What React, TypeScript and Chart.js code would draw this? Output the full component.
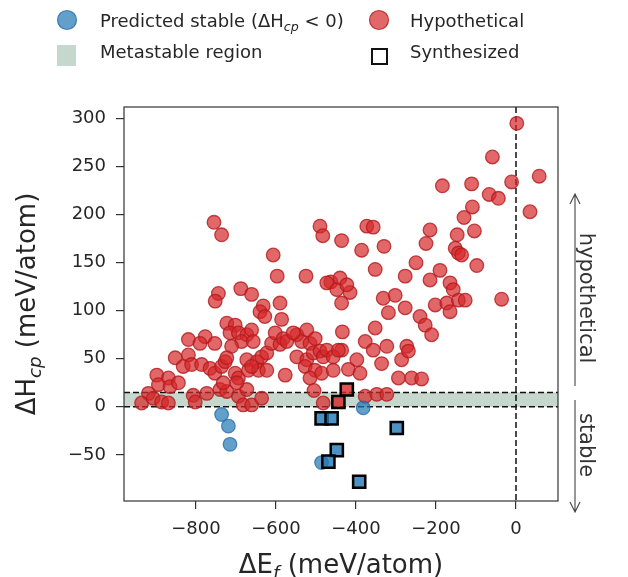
import React, { useEffect, useRef } from 'react';
import { Chart, registerables } from 'chart.js';

Chart.register(...registerables);

// Hypothetical (red circles)
const hypotheticalX = [
  -755, -736, -607, -597, -525, -490, -483, -436, -463, -440, -688, -661, -744, -752,
  2, -59, 58, -11, -111, -184, -67, -44, 35, -109, -130, -104, -215, -147, -225,
  -373, -357, -386, -330, -152, -144, -136, -98, -250, -190, -277, -352, -215, -165,
  -157, -36, -332, -302, -415, -277, -319, -202, -173, -165, -144, -127, -240, -227,
  -211, -436, -434, -436, -352, -377, -357, -323, -336, -398, -419, -390, -273, -286,
  -269, -294, -261, -236, -377, -348, -323, -632, -640, -628, -590, -586, -723, -702,
  -715, -694, -673, -661, -686, -657, -711, -819, -777, -790, -753, -852, -819, -832,
  -811, -786, -765, -753, -736, -727, -723, -702, -694, -673, -669, -648, -636, -623,
  -644, -623, -611, -590, -602, -582, -573, -548, -523, -536, -515, -502, -548, -523,
  -507, -490, -482, -473, -457, -444, -527, -502, -515, -486, -457, -577, -505, -898,
  -869, -894, -865, -844, -919, -936, -907, -886, -869, -807, -802, -773, -740, -723,
  -732, -694, -682, -673, -698, -661, -636, -473, -448, -423, -482, -557, -661,
];
const hypotheticalY = [
  192, 179, 158, 136, 136, 188, 178, 173, 130, 134, 123, 117, 118, 110,
  295, 260, 240, 234, 232, 230, 221, 217, 203, 208, 197, 183, 184, 179, 170,
  188, 187, 163, 167, 165, 160, 158, 147, 150, 142, 136, 143, 132, 129,
  122, 112, 113, 116, 119, 103, 98, 106, 108, 99, 111, 111, 94, 85,
  75, 108, 78, 59, 82, 68, 59, 63, 45, 49, 39, 35, 63, 49,
  58, 30, 30, 29, 11, 13, 13, 105, 99, 94, 108, 91, 87, 85,
  77, 77, 75, 80, 68, 68, 63, 70, 73, 66, 66, 51, 54, 42,
  44, 44, 40, 35, 42, 47, 51, 35, 30, 49, 38, 47, 52, 56,
  38, 38, 66, 65, 77, 71, 68, 75, 80, 68, 66, 71, 52, 49,
  56, 58, 52, 59, 52, 59, 42, 38, 30, 35, 38, 33, 17, 33,
  30, 23, 21, 25, 14, 4, 9, 5, 4, 12, 5, 14, 18, 16,
  25, 11, 2, 18, 25, 2, 9, 129, 122, 127, 4, 77, 42,
];

// Predicted stable, not synthesized (blue circles)
const stableX = [-736, -719, -715, -382, -486];
const stableY = [-8, -20, -39, -1, -58];

// Synthesized, predicted stable (blue squares)
const synthStableX = [-486, -461, -448, -469, -298, -392];
const synthStableY = [-12, -12, -45, -57, -22, -78];

// Synthesized, hypothetical (red squares)
const synthHypoX = [-423, -444];
const synthHypoY = [18, 5];

// Metastable band and axis settings
const metastableRange = [0, 15];
const xTicks = { min: -980, max: 105, step: 200 };
const yTicks = { min: -98, max: 312, step: 50 };

const FONT = '"DejaVu Sans", "Noto Sans", sans-serif';
const RED_FILL = 'rgba(214,39,40,0.7)';
const RED_EDGE = 'rgba(178,26,30,0.8)';
const BLUE_FILL = 'rgba(31,119,180,0.7)';
const BLUE_EDGE = 'rgba(31,100,170,0.75)';
const BAND = '#c6d7cd';
const TEXT = '#262626';

const zip = (xs: number[], ys: number[]) => xs.map((x, i) => ({ x, y: ys[i] }));

type Part = { t: string; sub?: boolean };

function drawRich(ctx: CanvasRenderingContext2D, parts: Part[], x: number, y: number, size: number, align: 'left' | 'center') {
  const sub = size * 0.7;
  const widths = parts.map((p) => {
    ctx.font = p.sub ? `italic ${sub}px ${FONT}` : `${size}px ${FONT}`;
    return ctx.measureText(p.t).width;
  });
  const total = widths.reduce((a, b) => a + b, 0);
  let cx = align === 'center' ? x - total / 2 : x;
  ctx.textAlign = 'left';
  ctx.textBaseline = 'alphabetic';
  parts.forEach((p, i) => {
    ctx.font = p.sub ? `italic ${sub}px ${FONT}` : `${size}px ${FONT}`;
    ctx.fillText(p.t, cx, p.sub ? y + size * 0.22 : y);
    cx += widths[i];
  });
}

const bandPlugin = {
  id: 'band',
  beforeDatasetsDraw(chart: any) {
    const { ctx, chartArea: a, scales } = chart;
    const y0 = scales.y.getPixelForValue(metastableRange[0]);
    const y1 = scales.y.getPixelForValue(metastableRange[1]);
    const x0 = scales.x.getPixelForValue(0);
    ctx.save();
    ctx.fillStyle = BAND;
    ctx.fillRect(a.left, y1, a.right - a.left, y0 - y1);
    ctx.strokeStyle = '#111';
    ctx.lineWidth = 1.5;
    ctx.setLineDash([6, 3]);
    ctx.beginPath();
    ctx.moveTo(a.left, y0); ctx.lineTo(a.right, y0);
    ctx.moveTo(a.left, y1); ctx.lineTo(a.right, y1);
    ctx.moveTo(x0, a.top); ctx.lineTo(x0, a.bottom);
    ctx.stroke();
    ctx.restore();
  },
};

const decorPlugin = {
  id: 'decor',
  afterDraw(chart: any) {
    const { ctx, chartArea: a } = chart;
    ctx.save();
    // frame
    ctx.strokeStyle = '#333';
    ctx.lineWidth = 1.2;
    ctx.setLineDash([]);
    ctx.strokeRect(a.left, a.top, a.right - a.left, a.bottom - a.top);

    // legend
    ctx.fillStyle = BLUE_FILL;
    ctx.strokeStyle = BLUE_EDGE;
    ctx.lineWidth = 1.2;
    ctx.beginPath(); ctx.arc(67, 20, 9.5, 0, Math.PI * 2); ctx.fill(); ctx.stroke();
    ctx.fillStyle = RED_FILL;
    ctx.strokeStyle = RED_EDGE;
    ctx.beginPath(); ctx.arc(379, 20, 9.5, 0, Math.PI * 2); ctx.fill(); ctx.stroke();
    ctx.fillStyle = BAND;
    ctx.fillRect(57, 45, 19, 21);
    ctx.strokeStyle = '#111';
    ctx.lineWidth = 2;
    ctx.strokeRect(372, 49, 15, 15);

    ctx.fillStyle = TEXT;
    drawRich(ctx, [{ t: 'Predicted stable (ΔH' }, { t: 'cp', sub: true }, { t: ' < 0)' }], 100, 27, 18, 'left');
    drawRich(ctx, [{ t: 'Hypothetical' }], 410, 27, 18, 'left');
    drawRich(ctx, [{ t: 'Metastable region' }], 100, 58, 18, 'left');
    drawRich(ctx, [{ t: 'Synthesized' }], 410, 58, 18, 'left');

    // axis titles
    const cx = (a.left + a.right) / 2;
    const cy = (a.top + a.bottom) / 2;
    drawRich(ctx, [{ t: 'ΔE' }, { t: 'f', sub: true }, { t: ' (meV/atom)' }], cx, 573, 26, 'center');
    ctx.save();
    ctx.translate(35, cy);
    ctx.rotate(-Math.PI / 2);
    drawRich(ctx, [{ t: 'ΔH' }, { t: 'cp', sub: true }, { t: ' (meV/atom)' }], 0, 0, 26, 'center');
    ctx.restore();

    // right annotation arrows
    const ax = 575;
    ctx.strokeStyle = '#444';
    ctx.lineWidth = 1.1;
    ctx.beginPath();
    ctx.moveTo(ax, 386); ctx.lineTo(ax, 194);
    ctx.moveTo(ax - 5, 204); ctx.lineTo(ax, 194); ctx.lineTo(ax + 5, 204);
    ctx.moveTo(ax, 400); ctx.lineTo(ax, 512);
    ctx.moveTo(ax - 5, 502); ctx.lineTo(ax, 512); ctx.lineTo(ax + 5, 502);
    ctx.stroke();

    ctx.fillStyle = '#333';
    ctx.font = `21px ${FONT}`;
    ctx.textAlign = 'center';
    ctx.textBaseline = 'alphabetic';
    ctx.save();
    ctx.translate(580, 298);
    ctx.rotate(Math.PI / 2);
    ctx.fillText('hypothetical', 0, 0);
    ctx.restore();
    ctx.save();
    ctx.translate(580, 445);
    ctx.rotate(Math.PI / 2);
    ctx.fillText('stable', 0, 0);
    ctx.restore();

    ctx.restore();
  },
};

const fmt = (v: number) => (v < 0 ? '\u2212' + Math.abs(v) : String(v));

export default function App() {
  const ref = useRef<HTMLCanvasElement>(null);
  useEffect(() => {
    if (!ref.current) return;
    const chart = new Chart(ref.current, {
      type: 'scatter',
      data: {
        datasets: [
          {
            label: 'Synthesized (hypothetical)',
            data: zip(synthHypoX, synthHypoY),
            pointStyle: 'rect',
            pointRadius: 8.6,
            backgroundColor: 'rgba(214,39,40,0.8)',
            borderColor: '#000',
            borderWidth: 2.5,
            order: 0,
          },
          {
            label: 'Synthesized (stable)',
            data: zip(synthStableX, synthStableY),
            pointStyle: 'rect',
            pointRadius: 8.6,
            backgroundColor: 'rgba(31,119,180,0.8)',
            borderColor: '#000',
            borderWidth: 2.5,
            order: 1,
          },
          {
            label: 'Predicted stable',
            data: zip(stableX, stableY),
            pointStyle: 'circle',
            pointRadius: 6.8,
            backgroundColor: BLUE_FILL,
            borderColor: BLUE_EDGE,
            borderWidth: 1.2,
            order: 2,
          },
          {
            label: 'Hypothetical',
            data: zip(hypotheticalX, hypotheticalY),
            pointStyle: 'circle',
            pointRadius: 6.8,
            backgroundColor: RED_FILL,
            borderColor: RED_EDGE,
            borderWidth: 1.3,
            order: 3,
          },
        ],
      },
      options: {
        responsive: false,
        animation: false,
        events: [],
        layout: { padding: { top: 107, right: 70, left: 0, bottom: 0 } },
        plugins: { legend: { display: false }, tooltip: { enabled: false } },
        scales: {
          x: {
            type: 'linear',
            min: xTicks.min,
            max: xTicks.max,
            afterFit: (s: any) => { s.height = 76; },
            border: { display: false },
            grid: { drawOnChartArea: false, drawTicks: true, tickLength: 8, color: '#333', lineWidth: 1.2 },
            ticks: {
              stepSize: xTicks.step,
              includeBounds: false,
              padding: 10,
              color: TEXT,
              font: { family: FONT, size: 18 },
              callback: (v: any) => fmt(Number(v)),
            },
          },
          y: {
            type: 'linear',
            min: yTicks.min,
            max: yTicks.max,
            afterFit: (s: any) => { s.width = 124; },
            border: { display: false },
            grid: { drawOnChartArea: false, drawTicks: true, tickLength: 8, color: '#333', lineWidth: 1.2 },
            ticks: {
              stepSize: yTicks.step,
              includeBounds: false,
              padding: 10,
              color: TEXT,
              font: { family: FONT, size: 18 },
              callback: (v: any) => fmt(Number(v)),
            },
          },
        },
      },
      plugins: [bandPlugin, decorPlugin],
    });
    return () => chart.destroy();
  }, []);
  return (
    <div style={{ position: 'fixed', left: 0, top: 0, width: 628, height: 577, background: '#fff' }}>
      <canvas ref={ref} width={628} height={577} style={{ width: 628, height: 577 }} />
    </div>
  );
}
